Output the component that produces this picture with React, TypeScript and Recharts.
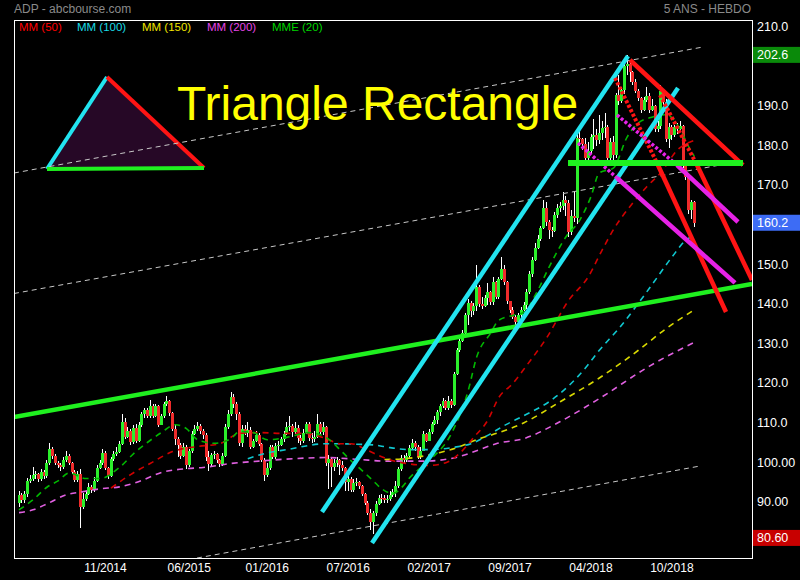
import React from 'react';
import { ComposedChart, Bar, Line, XAxis, YAxis, ReferenceLine, ReferenceArea } from 'recharts';

const FONT = '"Liberation Sans", Arial, Helvetica, sans-serif';

// Weekly closes
const closes = [
  91.5, 90.2, 91.8, 95.0, 95.6, 96.5, 96.8, 95.5, 97.2, 96.2,
  99.6, 103.0, 101.2, 99.5, 98.9, 98.6, 100.2, 101.3, 99.4, 97.2,
  95.2, 96.8, 88.5, 90.5, 91.8, 93.5, 92.6, 95.0, 98.3, 99.5,
  102.0, 98.2, 96.3, 100.5, 101.8, 102.2, 104.2, 110.0, 106.2, 107.5,
  104.8, 108.4, 105.0, 109.0, 111.8, 112.8, 111.3, 114.0, 111.5, 113.8,
  109.2, 111.5, 114.3, 115.2, 112.2, 108.2, 105.5, 104.0, 101.3, 103.5,
  99.0, 102.5, 106.8, 108.0, 108.8, 107.6, 106.5, 101.0, 99.2, 101.5,
  101.8, 100.2, 99.3, 101.2, 108.5, 112.0, 116.2, 114.5, 112.0, 104.5,
  108.2, 107.0, 107.8, 103.6, 105.0, 106.5, 104.2, 100.3, 96.5, 98.2,
  103.5, 101.0, 103.8, 104.0, 105.6, 106.8, 108.5, 108.8, 107.3, 108.3,
  105.8, 105.0, 107.2, 109.3, 105.8, 105.5, 106.0, 109.5, 107.3, 108.5,
  99.5, 100.5, 98.4, 99.5, 100.2, 99.0, 98.2, 94.8, 95.6, 92.8,
  94.5, 94.8, 93.8, 91.6, 89.5, 87.0, 84.5, 86.8, 89.2, 90.8,
  90.6, 90.2, 90.5, 91.5, 92.3, 93.8, 98.0, 100.8, 100.2, 101.2,
  103.3, 104.7, 103.5, 101.0, 102.6, 106.8, 105.2, 107.4, 109.4, 110.5,
  112.3, 114.0, 115.2, 113.4, 115.3, 114.2, 122.0, 128.0, 130.4, 132.3,
  136.8, 140.0, 137.8, 139.2, 144.0, 139.8, 139.3, 141.2, 142.6, 140.2,
  145.2, 141.5, 146.0, 148.5, 145.2, 140.5, 138.2, 136.3, 135.2, 136.8,
  138.2, 139.5, 142.7, 147.3, 150.8, 153.8, 156.0, 158.8, 164.0, 160.5,
  158.3, 158.0, 162.2, 164.0, 164.5, 166.0, 165.3, 157.8, 162.0, 161.5,
  181.5, 181.3, 180.0, 176.6, 178.2, 181.8, 182.4, 181.0, 182.8, 184.2,
  184.5, 176.5, 180.5, 177.2, 192.5, 191.0, 193.8, 199.8, 200.2, 198.2,
  195.8, 193.6, 191.6, 188.8, 191.2, 192.3, 188.8, 189.8, 183.8, 184.6,
  193.5, 190.8, 181.3, 184.3, 182.3, 184.4, 183.8, 184.6, 174.5, 171.8,
  163.5, 165.4, 160.2,
];

const highs = [
  92.5, 92.0, 92.5, 95.8, 96.5, 98.5, 97.5, 97.0, 98.0, 97.8,
  100.2, 104.5, 103.5, 101.8, 100.0, 99.5, 101.0, 102.5, 101.8, 99.8,
  97.8, 97.5, 98.0, 92.0, 92.5, 94.5, 94.0, 96.0, 99.0, 100.2,
  103.0, 102.5, 98.5, 101.0, 102.5, 103.5, 105.0, 112.0, 111.0, 108.5,
  108.0, 109.0, 109.5, 110.0, 112.5, 113.5, 113.5, 115.5, 114.5, 114.5,
  114.2, 112.0, 115.0, 116.5, 115.5, 112.5, 109.0, 106.0, 104.5, 104.5,
  104.0, 103.0, 107.5, 109.0, 110.0, 109.5, 108.0, 107.0, 102.5, 102.0,
  102.5, 102.0, 100.5, 102.0, 109.5, 113.0, 117.5, 117.0, 115.0, 112.5,
  109.0, 109.0, 110.0, 108.5, 105.5, 107.5, 107.0, 104.5, 100.8, 99.5,
  104.0, 104.0, 104.5, 105.0, 106.0, 107.5, 110.0, 111.5, 109.5, 110.0,
  109.0, 106.5, 108.0, 110.0, 110.0, 107.0, 107.5, 112.0, 110.0, 110.0,
  108.8, 101.5, 101.0, 100.5, 101.0, 100.5, 100.0, 98.5, 96.5, 96.0,
  95.5, 95.8, 95.0, 94.0, 92.0, 90.0, 88.0, 87.5, 89.8, 91.5,
  91.8, 91.5, 91.5, 92.5, 93.0, 95.0, 98.5, 101.5, 101.5, 102.0,
  104.0, 105.5, 105.0, 104.0, 103.5, 107.5, 107.0, 108.0, 110.0, 111.5,
  112.8, 114.5, 116.0, 115.5, 116.5, 115.8, 122.5, 128.5, 131.0, 133.0,
  137.5, 141.0, 140.5, 140.0, 149.5, 144.5, 141.5, 142.0, 145.0, 143.0,
  146.5, 145.5, 146.5, 151.5, 149.5, 145.5, 140.5, 138.8, 137.0, 137.5,
  138.8, 140.3, 143.5, 148.0, 151.5, 155.0, 157.0, 159.5, 166.0, 165.5,
  161.0, 159.2, 162.8, 165.0, 165.5, 168.0, 167.0, 166.0, 163.5, 168.0,
  183.0, 183.5, 181.5, 181.5, 180.5, 182.5, 186.5, 184.0, 187.5, 186.0,
  188.0, 185.0, 181.5, 182.0, 193.0, 197.5, 194.5, 200.5, 202.6, 200.5,
  198.5, 196.5, 194.0, 192.0, 192.0, 194.5, 193.0, 191.5, 190.0, 186.0,
  195.0, 194.0, 191.5, 185.5, 185.0, 185.0, 185.5, 186.0, 184.8, 175.0,
  172.0, 166.0, 165.8,
];

const lows = [
  88.5, 89.5, 89.5, 91.0, 94.5, 95.0, 95.5, 94.8, 95.0, 95.5,
  95.8, 99.0, 100.5, 99.0, 98.2, 97.5, 98.0, 99.8, 99.0, 96.8,
  94.8, 94.8, 83.0, 88.0, 90.0, 91.5, 92.0, 92.3, 94.8, 98.0,
  99.0, 97.8, 95.5, 96.0, 100.0, 101.2, 102.0, 104.0, 105.5, 105.8,
  104.0, 104.2, 104.5, 104.8, 108.5, 111.0, 110.8, 111.0, 111.0, 111.2,
  108.5, 109.0, 111.0, 114.0, 111.5, 107.5, 104.0, 101.0, 100.5, 101.0,
  98.0, 98.5, 102.0, 106.5, 107.5, 106.8, 105.5, 100.0, 97.5, 98.8,
  100.5, 99.5, 98.5, 98.8, 101.0, 108.0, 111.5, 113.5, 110.5, 103.8,
  103.5, 106.5, 106.0, 103.0, 103.2, 104.8, 103.8, 99.8, 95.0, 96.0,
  97.8, 100.5, 100.5, 102.5, 103.8, 104.8, 106.5, 107.5, 106.0, 106.8,
  104.5, 104.0, 104.5, 106.8, 105.0, 104.5, 104.8, 105.8, 106.5, 106.5,
  98.8, 93.0, 93.5, 97.5, 98.5, 96.5, 97.5, 92.5, 92.5, 92.3,
  92.3, 93.8, 93.0, 91.2, 89.0, 86.5, 82.5, 81.5, 86.2, 88.8,
  89.5, 89.5, 89.5, 90.0, 91.0, 91.0, 93.3, 97.5, 99.5, 99.8,
  100.8, 103.0, 102.5, 100.5, 100.5, 102.5, 104.8, 105.0, 106.8, 109.0,
  109.5, 111.5, 113.5, 112.8, 113.0, 113.5, 114.0, 121.8, 127.5, 130.0,
  132.0, 134.5, 136.5, 137.0, 138.0, 139.0, 138.5, 138.8, 139.5, 139.5,
  139.5, 141.0, 141.0, 145.8, 144.5, 139.8, 137.5, 135.8, 134.2, 134.5,
  136.0, 137.8, 138.5, 142.2, 146.5, 150.5, 153.5, 155.5, 158.5, 159.5,
  156.0, 156.5, 157.8, 161.5, 163.0, 163.5, 162.0, 156.5, 157.0, 160.5,
  160.0, 179.5, 178.5, 175.8, 176.0, 177.5, 178.8, 179.5, 180.0, 181.2,
  181.5, 175.8, 175.5, 175.8, 176.5, 190.0, 190.5, 192.8, 197.5, 195.8,
  195.0, 193.0, 191.0, 188.0, 188.5, 190.8, 188.0, 188.5, 183.0, 183.2,
  184.0, 190.0, 180.5, 179.0, 181.0, 181.8, 182.5, 183.0, 174.0, 171.0,
  162.5, 161.2, 159.2,
];

const firstOpen = 89.5;

// Moving averages: [bar index, value]
const mme20 = [[0,87.7],[5,90.2],[10,93.4],[14,95],[18,97],[24,95.6],[29,95.6],[36,98.4],[42,102.5],[46,104.7],[51,107.2],[56,109.2],[60,108.2],[64,105.4],[70,104.5],[76,105.7],[79,107.5],[84,107.2],[89,105.4],[96,106],[104,107.2],[110,106],[116,102.2],[119,100.1],[123,97.6],[127,95],[130,93],[134,91.8],[137,93.2],[140,95.8],[147,100.1],[155,107],[161,117.8],[164,126.2],[169,132.3],[172,135.6],[177,136.8],[181,137.6],[186,143.2],[190,149],[196,156.6],[201,160.9],[205,166.8],[208,172.8],[213,174],[218,181.9],[222,185.4],[226,186.7],[232,187.5],[237,183.7],[240,179.4],[242,177]];
const mm50 = [[33,93.2],[40,96.6],[47,99.4],[55,102.4],[64,103.7],[72,104.4],[79,107],[87,107.2],[94,107],[102,107],[110,105.7],[115,104.4],[119,104.4],[125,102.7],[129,101.4],[134,100.1],[139,99.4],[147,98.9],[153,99.6],[158,102],[163,106],[168,110.3],[172,116.1],[177,119.6],[182,124.2],[189,131],[197,140.6],[204,146.5],[209,153.3],[213,158.4],[220,165.2],[225,169.3],[230,172.8],[236,178.6],[242,181]];
const mm100 = [[82,100.6],[88,101.9],[96,102.9],[110,104.4],[127,104.1],[133,103.4],[140,102.9],[148,102.9],[155,103.4],[162,104.4],[168,106.5],[174,109],[181,111.5],[190,115],[197,119],[203,123.5],[208,128],[215,133.5],[226,143.7],[234,151.5],[239,155.8],[242,157]];
const mm150 = [[131,100.4],[138,100.6],[151,102.2],[157,103.4],[164,105.4],[172,107.2],[181,109.7],[194,115],[208,121],[222,128],[232,133.5],[242,138.2]];
const mm200 = [[0,87],[5,87.7],[10,89.2],[17,91.5],[23,92.3],[29,93],[36,93.5],[42,94.6],[52,97.3],[60,98.1],[66,98.4],[76,99.4],[86,100],[98,100.6],[110,100.9],[122,100.4],[132,100],[145,100],[157,101],[164,102.6],[171,104.4],[181,105.7],[194,110],[208,115.8],[226,124],[242,130]];

const xTickIdx = [31, 61, 89, 118, 147, 176, 205, 234];
const xTickLabels = ['11/2014', '06/2015', '01/2016', '07/2016', '02/2017', '09/2017', '04/2018', '10/2018'];
const yTicks = [90, 100, 110, 120, 130, 140, 150, 170, 180, 190, 210];
const yTickLabels = ['90.00', '100.00', '110.0', '120.0', '130.0', '140.0', '150.0', '170.0', '180.0', '190.0', '210.0'];

const maxHigh = 202.6;
const lastClose = 160.2;
const minLow = 80.6;

// Drawn annotations, in [bar index, price] pairs: [x1, y1, x2, y2]
const channelLines = [
  [-1.79, 172.76, 245.16, 204.59],
  [-1.79, 142.33, 251.25, 174.78],
  [63.8, 75.52, 244.09, 98.76],
];
const greenLong = [[-1.79, 111.13, 262.72, 144.73]];
const greenFlat = [[196.77, 175.29, 259.5, 175.29]];
const cyanLines = [
  [108.6, 87.14, 218.28, 202.32],
  [126.52, 79.31, 236.2, 194.23],
];
const redLines = [
  [218.99, 201.31, 259.5, 174.78],
  [228.67, 175.29, 253.41, 137.65],
  [243.01, 174.78, 262.72, 145.74],
];
const redDotted = [
  [213.62, 196.76, 228.67, 175.29],
  [229.75, 192.47, 243.01, 174.78],
];
const magentaLines = [
  [235.84, 174.78, 257.71, 160.39],
  [214.34, 171.5, 256.63, 145.0],
];
const magentaDotted = [
  [214.34, 187.41, 235.84, 174.78],
  [200.36, 180.34, 214.34, 171.5],
];
const triangle = [[31.54, 197.01], [10.04, 173.77], [66.31, 174.03]];

type Row = { i: number; o: number; h: number; l: number; c: number; [k: string]: number | undefined };
const rows: Row[] = closes.map((c, i) => ({ i, o: i === 0 ? firstOpen : closes[i - 1], h: highs[i], l: lows[i], c }));
const attach = (key: string, pts: number[][]) => pts.forEach(([i, v]) => { rows[i][key] = v; });
attach('mme20', mme20);
attach('mm50', mm50);
attach('mm100', mm100);
attach('mm150', mm150);
attach('mm200', mm200);

const Candle = (props: any) => {
  const { x, y, width, height, payload } = props;
  if (!payload || x == null) return null;
  const { o, h, l, c } = payload;
  const top = Math.min(y, y + height);
  const hh = Math.abs(height);
  const span = h - l || 1;
  const py = (p: number) => top + ((h - p) / span) * hh;
  const cx = Math.round(x + width / 2);
  const bTop = py(Math.max(o, c));
  const bBot = py(Math.min(o, c));
  const up = c >= o;
  return (
    <g shapeRendering="crispEdges">
      <line x1={cx + 0.5} x2={cx + 0.5} y1={top} y2={top + hh} stroke="#ffffff" strokeWidth={1} />
      <rect x={cx - 1} y={bTop} width={3} height={Math.max(1, bBot - bTop)} fill={up ? '#2bef2b' : '#ef2b2b'} />
    </g>
  );
};

const triBox = {
  x1: Math.min(...triangle.map((p) => p[0])),
  x2: Math.max(...triangle.map((p) => p[0])),
  y1: Math.min(...triangle.map((p) => p[1])),
  y2: Math.max(...triangle.map((p) => p[1])),
};

const TriangleShape = (props: any) => {
  const { x, y, width, height } = props;
  const pts = triangle.map(([a, b]) => [
    x + ((a - triBox.x1) / (triBox.x2 - triBox.x1)) * width,
    y + ((triBox.y2 - b) / (triBox.y2 - triBox.y1)) * height,
  ]);
  const [t, bl, br] = pts;
  return (
    <g>
      <polygon points={pts.map((p) => p.join(',')).join(' ')} fill="#260826" />
      <line x1={bl[0]} y1={bl[1]} x2={t[0]} y2={t[1]} stroke="#22e4f0" strokeWidth={4} />
      <line x1={t[0]} y1={t[1]} x2={br[0]} y2={br[1]} stroke="#ff1414" strokeWidth={4} />
      <line x1={bl[0]} y1={bl[1]} x2={br[0]} y2={br[1]} stroke="#1ff01f" strokeWidth={4} />
    </g>
  );
};

const badge = (text: string, bg: string) => (props: any) => {
  const vb = props.viewBox || {};
  const left = vb.x + vb.width + 1;
  const y = vb.y;
  return (
    <g>
      <rect x={left} y={y - 8} width={48} height={16} fill={bg} />
      <text x={left + 4} y={y + 4.5} fill="#ffffff" fontSize={12.5} fontFamily={FONT}>{text}</text>
    </g>
  );
};

const seg = (l: number[], key: string, color: string, width: number, dash?: string) => (
  <ReferenceLine
    key={key}
    segment={[{ x: l[0], y: l[1] }, { x: l[2], y: l[3] }]}
    stroke={color}
    strokeWidth={width}
    strokeDasharray={dash}
    ifOverflow="hidden"
  />
);

const legend = [
  { t: 'MM (50)', c: '#ff0000', x: 19 },
  { t: 'MM (100)', c: '#19dbe6', x: 77 },
  { t: 'MM (150)', c: '#f2e600', x: 142 },
  { t: 'MM (200)', c: '#e544e5', x: 207 },
  { t: 'MME (20)', c: '#00d400', x: 272 },
];

export default function App() {
  return (
    <div style={{ position: 'absolute', left: 0, top: 0, width: 800, height: 580, background: '#000', overflow: 'hidden', fontFamily: FONT }}>
      <ComposedChart width={800} height={580} data={rows} margin={{ top: 20, left: 14, right: 0, bottom: 0 }}>
        <XAxis
          dataKey="i"
          type="number"
          domain={[-1.79, 262.72]}
          allowDataOverflow
          ticks={xTickIdx}
          interval={0}
          tickFormatter={(v: number) => xTickLabels[xTickIdx.indexOf(v)] ?? ''}
          axisLine={false}
          tickLine={false}
          height={22}
          tickSize={4}
          tickMargin={1}
          tick={{ fill: '#ffffff', fontSize: 12, fontFamily: FONT }}
        />
        <YAxis
          orientation="right"
          type="number"
          domain={[75.53, 211.41]}
          allowDataOverflow
          ticks={yTicks}
          interval={0}
          tickFormatter={(v: number) => yTickLabels[yTicks.indexOf(v)] ?? ''}
          axisLine={false}
          tickLine={false}
          width={48}
          tickSize={0}
          tickMargin={5}
          tick={{ fill: '#ffffff', fontSize: 12.5, fontFamily: FONT, dy: 1 }}
        />
        <ReferenceArea x1={triBox.x1} x2={triBox.x2} y1={triBox.y1} y2={triBox.y2} shape={TriangleShape} ifOverflow="visible" />
        {channelLines.map((l, k) => seg(l, 'ch' + k, '#c8c8c8', 1, '5 4'))}
        <Line dataKey="mm200" stroke="#e060e0" strokeWidth={1.6} strokeDasharray="6 5" dot={false} connectNulls type="monotone" isAnimationActive={false} />
        <Line dataKey="mm150" stroke="#d8d800" strokeWidth={1.6} strokeDasharray="6 5" dot={false} connectNulls type="monotone" isAnimationActive={false} />
        <Line dataKey="mm100" stroke="#10c8d0" strokeWidth={1.6} strokeDasharray="6 5" dot={false} connectNulls type="monotone" isAnimationActive={false} />
        <Line dataKey="mm50" stroke="#d00000" strokeWidth={1.6} strokeDasharray="6 5" dot={false} connectNulls type="monotone" isAnimationActive={false} />
        <Line dataKey="mme20" stroke="#00b800" strokeWidth={1.6} strokeDasharray="6 5" dot={false} connectNulls type="monotone" isAnimationActive={false} />
        <Bar dataKey={(d: Row) => [d.l, d.h]} barSize={2} shape={Candle} isAnimationActive={false} />
        {greenLong.map((l, k) => seg(l, 'gl' + k, '#1ff01f', 4.5))}
        {cyanLines.map((l, k) => seg(l, 'cy' + k, '#22e4f0', 4.5))}
        {redDotted.map((l, k) => seg(l, 'rd' + k, '#ff1414', 4, '3 2'))}
        {magentaDotted.map((l, k) => seg(l, 'md' + k, '#e622e6', 3.5, '3 2'))}
        {redLines.map((l, k) => seg(l, 'rl' + k, '#ff1414', 4.5))}
        {magentaLines.map((l, k) => seg(l, 'ml' + k, '#e622e6', 4.5))}
        {greenFlat.map((l, k) => seg(l, 'gf' + k, '#1ff01f', 6))}
        <ReferenceLine y={maxHigh} stroke="none" label={badge('202.6', '#0a8a0a')} />
        <ReferenceLine y={lastClose} stroke="none" label={badge('160.2', '#3d6cf5')} />
        <ReferenceLine y={minLow} stroke="none" label={badge('80.60', '#c80000')} />
      </ComposedChart>

      <div style={{ position: 'absolute', left: 14, top: 20, width: 739, height: 539, boxSizing: 'border-box', border: '1px solid #ffffff', pointerEvents: 'none' }} />

      <div style={{ position: 'absolute', left: 14, top: 2.5, fontSize: 12, lineHeight: '12px', color: '#8a8a8a', whiteSpace: 'nowrap' }}>ADP - abcbourse.com</div>
      <div style={{ position: 'absolute', right: 49, top: 2.5, fontSize: 12, lineHeight: '12px', color: '#8a8a8a', whiteSpace: 'nowrap' }}>5 ANS - HEBDO</div>

      {legend.map((g) => (
        <div key={g.t} style={{ position: 'absolute', left: g.x, top: 22, fontSize: 11.5, lineHeight: '11.5px', color: g.c, whiteSpace: 'nowrap' }}>{g.t}</div>
      ))}

      <div style={{ position: 'absolute', left: 177, top: 80, fontSize: 48, lineHeight: '48px', color: '#ffff00', whiteSpace: 'nowrap' }}>Triangle Rectangle</div>
    </div>
  );
}
